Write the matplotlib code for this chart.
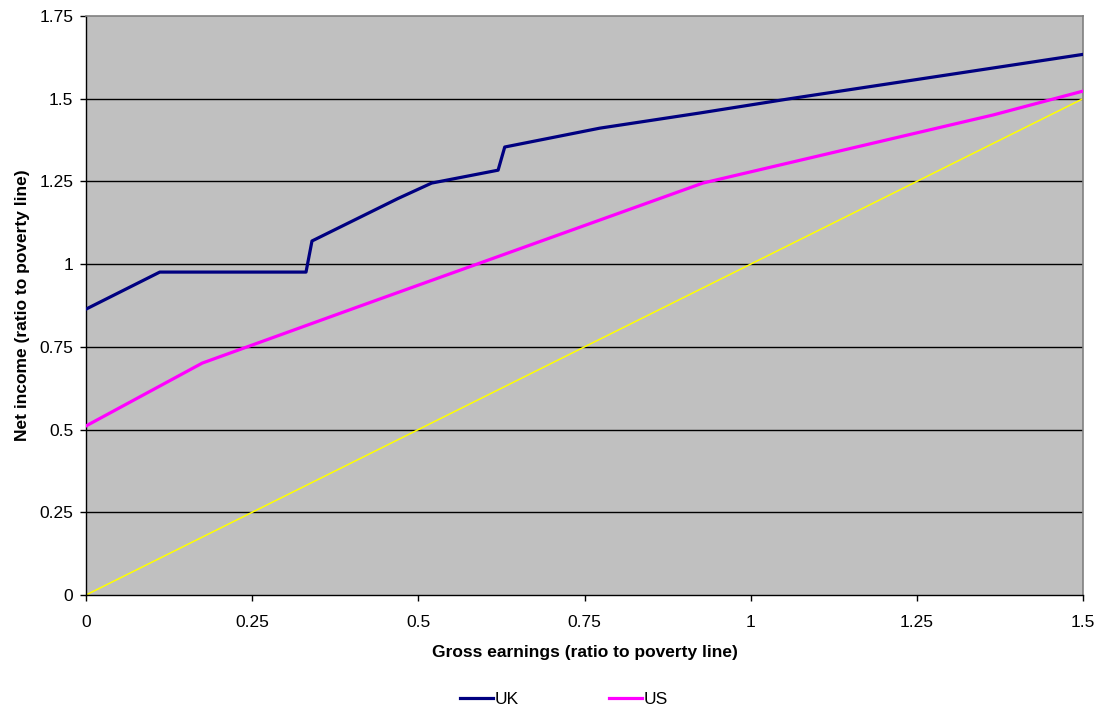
import matplotlib
matplotlib.use("Agg")
import matplotlib.pyplot as plt
from matplotlib.ticker import FixedLocator

plt.rcParams['font.family'] = ['Liberation Sans', 'DejaVu Sans']

# gross earnings (ratio to poverty line) and net income for each country
uk_x = [0.0, 0.111, 0.331, 0.340, 0.469, 0.520, 0.620, 0.630, 0.773, 0.924, 1.059, 1.5]
uk_y = [0.864, 0.976, 0.976, 1.070, 1.198, 1.245, 1.284, 1.354, 1.411, 1.457, 1.500, 1.634]
us_x = [0.0, 0.175, 0.412, 0.928, 1.365, 1.5]
us_y = [0.511, 0.701, 0.873, 1.245, 1.451, 1.523]
ref_x = [0.0, 1.5]
ref_y = [0.0, 1.5]

x_ticks = [0, 0.25, 0.5, 0.75, 1, 1.25, 1.5]
x_tick_labels = ["0", "0.25", "0.5", "0.75", "1", "1.25", "1.5"]
y_ticks = [0, 0.25, 0.5, 0.75, 1, 1.25, 1.5, 1.75]
y_tick_labels = ["0", "0.25", "0.5", "0.75", "1", "1.25", "1.5", "1.75"]

fig = plt.figure(figsize=(11, 7.12), dpi=100)
ax = fig.add_axes([86 / 1100, 1 - 595 / 712, (1083 - 86) / 1100, (595 - 16) / 712])
ax.set_facecolor("#C0C0C0")

ax.set_xlim(0, 1.5)
ax.set_ylim(0, 1.75)

# horizontal gridlines
for yv in y_ticks[1:-1]:
    ax.axhline(yv, color="black", lw=1.0, zorder=1)

ax.plot(ref_x, ref_y, color="#FFFF00", lw=1.1, zorder=2)
ax.plot(us_x, us_y, color="#FF00FF", lw=2.3, zorder=3, label="US")
ax.plot(uk_x, uk_y, color="#000080", lw=2.3, zorder=4, label="UK")

ax.xaxis.set_major_locator(FixedLocator(x_ticks))
ax.set_xticklabels(x_tick_labels)
ax.yaxis.set_major_locator(FixedLocator(y_ticks))
ax.set_yticklabels(y_tick_labels)
ax.tick_params(axis="both", direction="out", length=4, width=1, colors="black",
               labelsize=12.5)
ax.tick_params(axis="x", pad=10.5)
ax.tick_params(axis="y", pad=5)

for side in ["top", "right"]:
    ax.spines[side].set_color("#808080")
    ax.spines[side].set_linewidth(1.2)
for side in ["left", "bottom"]:
    ax.spines[side].set_color("black")
    ax.spines[side].set_linewidth(1.0)

ax.set_xlabel("Gross earnings (ratio to poverty line)", fontsize=12.5, fontweight="bold", labelpad=11)
ax.set_ylabel("Net income (ratio to poverty line)", fontsize=12.5, fontweight="bold", labelpad=7)

handles, labels = ax.get_legend_handles_labels()
order = [1, 0]
fig.legend([handles[i] for i in order], [labels[i] for i in order],
           loc="center", bbox_to_anchor=(0.513, 0.017), ncol=2, frameon=False,
           fontsize=12.5, handlelength=1.9, handletextpad=0.1, columnspacing=5.2)

fig.savefig("out.png", dpi=100)
